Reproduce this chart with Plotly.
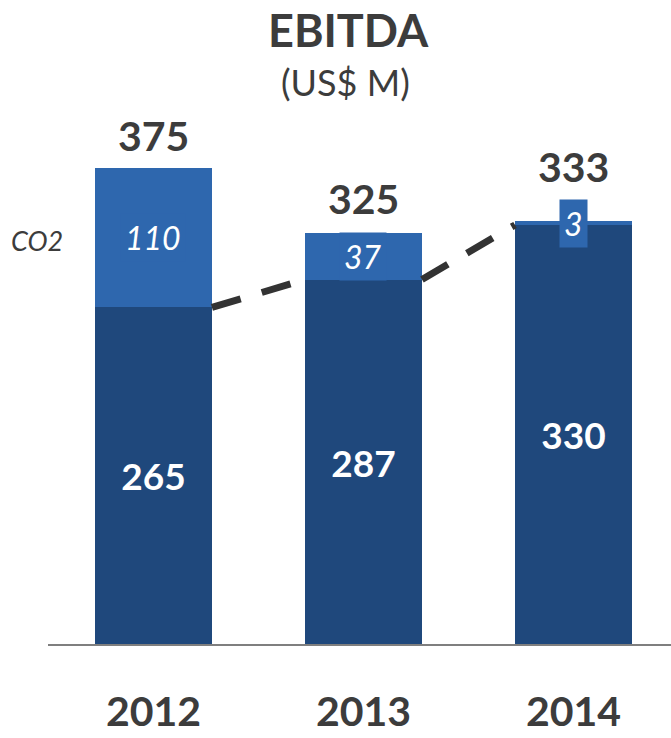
import plotly.graph_objects as go

years = ["2012", "2013", "2014"]
base_vals = [265, 287, 330]
co2_vals = [110, 37, 3]
totals = [375, 325, 333]
series_label = "CO2"
title_main = "EBITDA"
title_sub = "(US$ M)"

DARK = "#1F487C"
LIGHT = "#2E67AE"
TXT = "#3C3C3C"
FONT = "Lato"

x = list(range(len(years)))
W = 0.557
PX_PER_UNIT = 1.27
PLOT_H = 644

fig = go.Figure()
fig.add_bar(
    x=x, y=base_vals, width=W, marker_color=DARK, marker_line_width=0,
    text=[str(v) for v in base_vals], textposition="inside",
    insidetextanchor="middle", textangle=0, constraintext="none",
    textfont=dict(color="white", size=37, family=FONT, weight="bold"),
    hoverinfo="skip", showlegend=False,
)
fig.add_bar(
    x=x, y=co2_vals, width=W, marker_color=LIGHT, marker_line_width=0,
    hoverinfo="skip", showlegend=False,
)

# dashed connector between tops of base bars
lx, ly = [], []
for i in range(len(x) - 1):
    lx += [x[i] + W / 2, x[i + 1] - W / 2, None]
    ly += [base_vals[i], base_vals[i + 1], None]
fig.add_scatter(
    x=lx, y=ly, mode="lines",
    line=dict(color="#333333", width=7, dash="30px,22px"),
    hoverinfo="skip", showlegend=False,
)

annotations = []
# CO2 segment labels
for i, (b, c) in enumerate(zip(base_vals, co2_vals)):
    annotations.append(dict(
        x=x[i], y=b + c / 2, xref="x", yref="y", text=f"<i>{c}</i>",
        showarrow=False, bgcolor=LIGHT, borderpad=4,
        font=dict(color="white", size=32, family=FONT),
    ))
# totals
shifts = [6, 6, 28]
for i, t in enumerate(totals):
    annotations.append(dict(
        x=x[i], y=t, xref="x", yref="y", text=f"<b>{t}</b>",
        showarrow=False, yanchor="bottom", yshift=shifts[i],
        font=dict(color=TXT, size=41, family=FONT),
    ))
# year labels
for i, yr in enumerate(years):
    annotations.append(dict(
        x=x[i], y=0, xref="x", yref="paper",
        text=f"<b>{yr}</b>", showarrow=False, yanchor="bottom",
        yshift=-(738 - PLOT_H) + 1,
        font=dict(color=TXT, size=41, family=FONT),
    ))
# titles
annotations.append(dict(
    x=(348 - 48) / 623, y=(PLOT_H - 30) / PLOT_H, xref="paper", yref="paper",
    text=f"<b>{title_main}</b>", showarrow=False, yanchor="middle", xanchor="center",
    font=dict(color=TXT, size=45, family=FONT),
))
annotations.append(dict(
    x=(345 - 48) / 623, y=(PLOT_H - 82) / PLOT_H, xref="paper", yref="paper",
    text=title_sub, showarrow=False, yanchor="middle", xanchor="center",
    font=dict(color=TXT, size=36, family=FONT),
))
annotations.append(dict(
    x=(37 - 48) / 623, y=(PLOT_H - 240) / PLOT_H, xref="paper", yref="paper",
    text=f"<i>{series_label}</i>", showarrow=False, yanchor="middle", xanchor="center",
    font=dict(color=TXT, size=27, family=FONT),
))

fig.update_layout(
    width=671, height=738,
    margin=dict(l=48, r=0, t=0, b=738 - PLOT_H),
    barmode="stack", bargap=0,
    plot_bgcolor="white", paper_bgcolor="white",
    xaxis=dict(range=[-0.502, 2.464], showticklabels=False, showgrid=False,
               zeroline=False, showline=True, linecolor="#7F7F7F", linewidth=2,
               fixedrange=True),
    yaxis=dict(range=[0, PLOT_H / PX_PER_UNIT], visible=False, fixedrange=True),
    annotations=annotations,
    font=dict(family=FONT),
)
fig.write_html(
    "out.html",
    config={"displayModeBar": False},
    post_script="document.body.style.margin='0';document.body.style.overflow='hidden';",
)
